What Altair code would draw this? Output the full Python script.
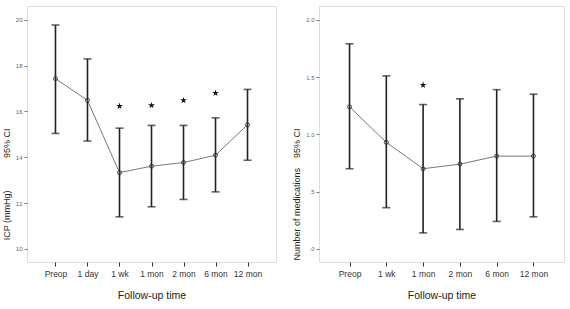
import altair as alt
import pandas as pd

icp_times = ["Preop", "1 day", "1 wk", "1 mon", "2 mon", "6 mon", "12 mon"]
icp_mean = [17.43, 16.48, 13.33, 13.61, 13.77, 14.09, 15.42]
icp_upper = [19.77, 18.29, 15.27, 15.39, 15.39, 15.72, 16.96]
icp_lower = [15.04, 14.71, 11.40, 11.84, 12.16, 12.49, 13.87]
icp_star = [None, None, 16.23, 16.26, 16.48, 16.80, None]
icp_ticks = [10, 12, 14, 16, 18, 20]

med_times = ["Preop", "1 wk", "1 mon", "2 mon", "6 mon", "12 mon"]
med_mean = [1.24, 0.93, 0.70, 0.74, 0.81, 0.81]
med_upper = [1.79, 1.51, 1.26, 1.31, 1.39, 1.35]
med_lower = [0.70, 0.36, 0.14, 0.17, 0.24, 0.28]
med_star = [None, None, 1.43, None, None, None]
med_ticks = [0, 0.5, 1.0, 1.5, 2.0]

STAR = ("M0,-1L0.2245,-0.309L0.951,-0.309L0.363,0.118L0.588,0.809L0,0.382"
        "L-0.588,0.809L-0.363,0.118L-0.951,-0.309L-0.2245,-0.309Z")
FONT = "Liberation Sans"
NB = "\u00a0"


def panel(times, mean, upper, lower, star, ticks, domain, ytitle, width,
          pad, label_expr, title_y):
    df = pd.DataFrame({"t": times, "mean": mean, "up": upper, "lo": lower,
                       "star": star})
    x = alt.X("t:N", sort=times,
              scale=alt.Scale(type="point", padding=pad),
              axis=alt.Axis(title="Follow-up time", labelAngle=0, domain=False,
                            tickSize=4, tickColor="#333", tickWidth=1,
                            labelFontSize=8.5, labelColor="#333",
                            labelPadding=3, titleFontSize=10.5,
                            titleFontWeight="normal", titleColor="#222",
                            titlePadding=13, labelFont=FONT, titleFont=FONT))
    xs = alt.X("t:N", sort=times)
    yscale = alt.Scale(domain=domain, nice=False, zero=False)
    yaxis = alt.Axis(title=ytitle, values=ticks, labelExpr=label_expr,
                     domain=False, grid=False, tickSize=3, tickColor="#777",
                     labelFontSize=6, labelColor="#666", labelPadding=2,
                     titleFontSize=9, titleFontWeight="normal",
                     titleColor="#222", titleFont=FONT, labelFont=FONT,
                     titlePadding=4, titleAngle=270, titleAlign="right",
                     titleBaseline="bottom", titleY=title_y)
    base = alt.Chart(df)
    rule = base.mark_rule(color="#222", strokeWidth=1.6).encode(
        x=x, y=alt.Y("lo:Q", scale=yscale, axis=yaxis), y2="up:Q")
    cap_up = base.mark_tick(color="#222", orient="horizontal", size=8,
                            thickness=1.6).encode(x=xs, y="up:Q")
    cap_lo = base.mark_tick(color="#222", orient="horizontal", size=8,
                            thickness=1.6).encode(x=xs, y="lo:Q")
    line = base.mark_line(color="#555", strokeWidth=0.8).encode(
        x=xs, y="mean:Q")
    pts = base.mark_point(shape="circle", size=16, color="#333", filled=False,
                          strokeWidth=0.9, opacity=1).encode(
        x=xs, y="mean:Q")
    stars = base.transform_filter("isValid(datum.star)").mark_point(
        shape=STAR, size=50, filled=True, color="#111", opacity=1).encode(
        x=xs, y="star:Q")
    return alt.layer(rule, cap_up, cap_lo, line, pts, stars).properties(
        width=width, height=256)


left = panel(icp_times, icp_mean, icp_upper, icp_lower, icp_star, icp_ticks,
             [9.43, 20.6], "ICP (mmHg)" + NB * 13 + "95% CI", 249, 0.89,
             "format(datum.value, 'd')", 122)
right = panel(med_times, med_mean, med_upper, med_lower, med_star, med_ticks,
              [-0.114, 2.12], "Number of medications" + NB * 4 + "95% CI",
              245, 0.83,
              "datum.value == 0 ? '.0' : datum.value == 0.5 ? '.5' : format(datum.value, '.1f')",
              122)

chart = alt.hconcat(left, right, spacing=15).properties(
    padding={"left": 1, "top": 5, "right": 0, "bottom": 0},
    background="white",
).configure_view(stroke="#222", strokeWidth=1.3).configure(font=FONT)

chart.save("out.html", embed_options={"renderer": "svg", "actions": False})
